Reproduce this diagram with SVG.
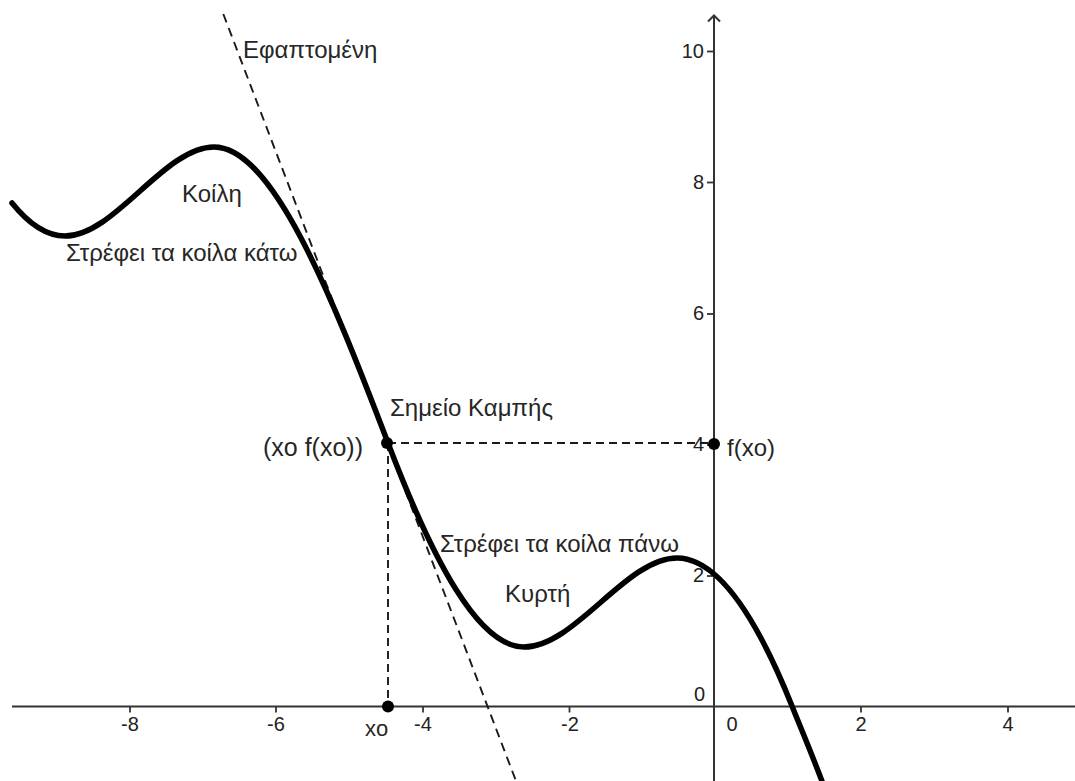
<svg xmlns="http://www.w3.org/2000/svg" width="1075" height="781" viewBox="0 0 1075 781">
<style>
.axis{stroke:#333;stroke-width:2;fill:none}
.tick{stroke:#333;stroke-width:1.8}
.num{font-family:"Liberation Sans",Arial,sans-serif;font-size:20px;fill:#222}
.lbl{font-family:"Liberation Sans",Arial,sans-serif;font-size:24px;fill:#262626}
.curve{stroke:#000;stroke-width:5.5;fill:none;stroke-linecap:round;stroke-linejoin:round}
.dash{stroke:#1a1a1a;stroke-width:1.9;fill:none;stroke-dasharray:8 5}
.tan{stroke:#1a1a1a;stroke-width:1.9;fill:none;stroke-dasharray:9 6}
.pt{fill:#000}
</style>
<rect width="1075" height="781" fill="#fff"/>
<g id="axes">
<line class="axis" x1="12" y1="706.5" x2="1075" y2="706.5"/>
<line class="axis" x1="714" y1="781" x2="714" y2="16"/>
<polyline class="axis" points="708,21.5 714,15.5 720,21.5"/>
<g id="x-ticks">
<line class="tick" x1="130" y1="706.5" x2="130" y2="712.5"/>
<line class="tick" x1="276" y1="706.5" x2="276" y2="712.5"/>
<line class="tick" x1="423" y1="706.5" x2="423" y2="712.5"/>
<line class="tick" x1="569.5" y1="706.5" x2="569.5" y2="712.5"/>
<line class="tick" x1="861" y1="706.5" x2="861" y2="712.5"/>
<line class="tick" x1="1008" y1="706.5" x2="1008" y2="712.5"/>
</g>
<g id="y-ticks">
<line class="tick" x1="707" y1="51.5" x2="714" y2="51.5"/>
<line class="tick" x1="707" y1="182.5" x2="714" y2="182.5"/>
<line class="tick" x1="707" y1="314" x2="714" y2="314"/>
<line class="tick" x1="707" y1="445" x2="714" y2="445"/>
<line class="tick" x1="707" y1="576" x2="714" y2="576"/>
</g>
<g id="x-labels" class="num" text-anchor="middle">
<text x="130" y="731">-8</text>
<text x="276" y="731">-6</text>
<text x="423" y="731">-4</text>
<text x="570" y="731">-2</text>
<text x="732" y="731">0</text>
<text x="861" y="731">2</text>
<text x="1008" y="731">4</text>
</g>
<g id="y-labels" class="num" text-anchor="end">
<text x="704" y="58">10</text>
<text x="704" y="189">8</text>
<text x="704" y="320">6</text>
<text x="704" y="451">4</text>
<text x="704" y="582">2</text>
<text x="705" y="701">0</text>
</g>
</g>
<g id="connectors">
<line id="tangent" class="tan" x1="223.3" y1="14" x2="516" y2="781"/>
<line id="guide-h" class="dash" x1="388" y1="443" x2="714" y2="443"/>
<line id="guide-v" class="dash" x1="388" y1="443" x2="388" y2="706.5"/>
</g>
<g id="curve">
<path class="curve" d="M12,203 C29.7,225 47.3,236 65,236 C114.7,236 164.3,147 214,147 C272,147 330,291 388,443 C433.3,561.8 478.7,647 524,647 C575,647 626,558 677,558 C715.3,558 753.7,610.2 792,706 C803.3,734.3 814.7,760.8 826,792"/>
</g>
<g id="point-inflection">
<circle class="pt" cx="387" cy="443" r="6"/>
<text class="lbl" x="263" y="456" style="font-size:25px">(xo f(xo))</text>
</g>
<g id="point-xo">
<circle class="pt" cx="388" cy="706.5" r="6"/>
<text class="lbl" x="365" y="736" style="font-size:22px">xo</text>
</g>
<g id="point-fxo">
<circle class="pt" cx="714" cy="444" r="6"/>
<text class="lbl" x="727" y="456">f(xo)</text>
</g>
<g id="labels">
<text id="lbl-tangent" class="lbl" x="243" y="58">Εφαπτομένη</text>
<text id="lbl-koili" class="lbl" x="182" y="202">Κοίλη</text>
<text id="lbl-down" class="lbl" x="66" y="261">Στρέφει τα κοίλα κάτω</text>
<text id="lbl-inflection" class="lbl" x="390" y="416">Σημείο Καμπής</text>
<text id="lbl-up" class="lbl" x="440" y="552">Στρέφει τα κοίλα πάνω</text>
<text id="lbl-kyrti" class="lbl" x="505" y="602">Κυρτή</text>
</g>
</svg>
